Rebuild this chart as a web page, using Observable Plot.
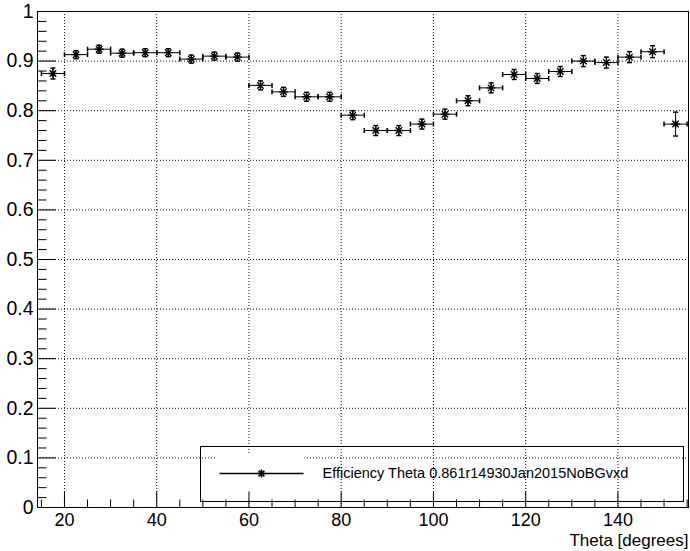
<!DOCTYPE html>
<html><head><meta charset="utf-8">
<script src="https://cdn.jsdelivr.net/npm/d3@7"></script>
<script src="https://cdn.jsdelivr.net/npm/@observablehq/plot@0.6"></script>
<style>body{margin:0;background:#fff}</style>
</head><body><div id="chart"></div>
<script>
const binCenters = [17.5,22.5,27.5,32.5,37.5,42.5,47.5,52.5,57.5,62.5,67.5,72.5,77.5,82.5,87.5,92.5,97.5,102.5,107.5,112.5,117.5,122.5,127.5,132.5,137.5,142.5,147.5,152.5];
const efficiency = [0.875,0.913,0.924,0.916,0.917,0.917,0.904,0.910,0.908,0.851,0.838,0.828,0.828,0.791,0.760,0.760,0.773,0.793,0.820,0.846,0.873,0.865,0.879,0.900,0.897,0.908,0.919,0.773];
const efficiencyError = [0.011,0.008,0.008,0.008,0.008,0.008,0.008,0.008,0.008,0.009,0.009,0.009,0.009,0.009,0.010,0.010,0.010,0.010,0.010,0.010,0.010,0.010,0.010,0.011,0.011,0.011,0.012,0.024];
const binHalfWidth = 2.5;
const xMajorTicks = [20,40,60,80,100,120,140];
const xMinorTicks = [15,25,30,35,45,50,55,65,70,75,85,90,95,105,110,115,125,130,135,145,150,155];
const yMajorTicks = [0,0.1,0.2,0.3,0.4,0.5,0.6,0.7,0.8,0.9,1];
const yMinorTicks = d3.range(0, 50).map(i => i * 0.02).filter(v => Math.abs(v*10 - Math.round(v*10)) > 1e-6);
const xLabel = "Theta [degrees]";
const legendLabel = "Efficiency Theta 0.861r14930Jan2015NoBGvxd";

const points = binCenters.map((x, i) => ({x, y: efficiency[i], e: efficiencyError[i]}));

const W = 690, H = 551, mL = 37, mR = 2, mT = 11, mB = 44;
const plotW = W - mL - mR, plotH = H - mT - mB;
const rOf = s => Math.sqrt(s / Math.PI);
const asterisk = {draw(c, s) { const r = rOf(s), d = r * 0.72;
  c.moveTo(-r, 0); c.lineTo(r, 0); c.moveTo(0, -r); c.lineTo(0, r);
  c.moveTo(-d, -d); c.lineTo(d, d); c.moveTo(-d, d); c.lineTo(d, -d); }};
const vline = {draw(c, s) { const r = rOf(s); c.moveTo(0, -r); c.lineTo(0, r); }};
const hline = {draw(c, s) { const r = rOf(s); c.moveTo(-r, 0); c.lineTo(r, 0); }};
const font = "'Liberation Sans', Arial, Helvetica, sans-serif";
const grid = {stroke: "#111", strokeDasharray: "1,2", strokeWidth: 1};

const chart = Plot.plot({
  width: W, height: H,
  marginLeft: mL, marginRight: mR, marginTop: mT, marginBottom: mB,
  x: {domain: [14.15, 155.3]},
  y: {domain: [0, 1]},
  style: {fontFamily: font, fontSize: "18px", background: "#fff", color: "#000"},
  marks: [
    Plot.ruleX(xMajorTicks, {x: d => d, ...grid}),
    Plot.ruleY(yMajorTicks.filter(v => v > 0 && v < 1), {y: d => d, ...grid}),
    // legend background for symbol area
    Plot.frame({fill: "#fff", stroke: "none", insetLeft: 178, insetRight: 384, insetTop: 442, insetBottom: 7}),
    Plot.frame({stroke: "#000", fill: "none", insetLeft: 163, insetRight: 5, insetTop: 435, insetBottom: 6}),
    Plot.frame({stroke: "#000"}),
    // ticks (inward)
    Plot.tickX(xMajorTicks, {x: d => d, insetTop: plotH - 15.5, stroke: "#000"}),
    Plot.tickX(xMinorTicks, {x: d => d, insetTop: plotH - 7.5, stroke: "#000"}),
    Plot.tickY(yMajorTicks, {y: d => d, insetRight: plotW - 19, stroke: "#000"}),
    Plot.tickY(yMinorTicks, {y: d => d, insetRight: plotW - 9.5, stroke: "#000"}),
    Plot.axisX({ticks: xMajorTicks, tickSize: 0, tickPadding: 6, label: null, fontSize: 18}),
    Plot.axisY({ticks: yMajorTicks, tickSize: 0, tickPadding: 4, label: null, fontSize: 19.5, tickFormat: d => String(+d.toFixed(1))}),
    Plot.text([xLabel], {text: d => d, frameAnchor: "bottom-right", textAnchor: "end", lineAnchor: "middle", dy: 33, fontSize: 17}),
    // data: error bars and markers
    Plot.ruleY(points, {y: "y", x1: d => d.x - binHalfWidth, x2: d => d.x + binHalfWidth, stroke: "#000"}),
    Plot.ruleX(points, {x: "x", y1: d => d.y - d.e, y2: d => d.y + d.e, stroke: "#000"}),
    Plot.dot(points, {x: d => d.x - binHalfWidth, y: "y", symbol: vline, r: 2.5, stroke: "#000", fill: "none"}),
    Plot.dot(points, {x: d => d.x + binHalfWidth, y: "y", symbol: vline, r: 2.5, stroke: "#000", fill: "none"}),
    Plot.dot(points, {x: "x", y: d => d.y - d.e, symbol: hline, r: 2.5, stroke: "#000", fill: "none"}),
    Plot.dot(points, {x: "x", y: d => d.y + d.e, symbol: hline, r: 2.5, stroke: "#000", fill: "none"}),
    Plot.dot(points, {x: "x", y: "y", symbol: asterisk, r: 4.5, stroke: "#000", fill: "none", strokeWidth: 1.4}),
    // legend entry
    Plot.dot([legendLabel], {frameAnchor: "top-left", dx: 224, dy: 462, symbol: hline, r: 42, stroke: "#000", fill: "none"}),
    Plot.dot([legendLabel], {frameAnchor: "top-left", dx: 224, dy: 462, symbol: asterisk, r: 4, stroke: "#000", fill: "none"}),
    Plot.text([legendLabel], {text: d => d, frameAnchor: "top-left", dx: 285, dy: 462, textAnchor: "start", lineAnchor: "middle", fontSize: 14.5})
  ]
});
document.getElementById("chart").append(chart);
</script>
</body></html>
